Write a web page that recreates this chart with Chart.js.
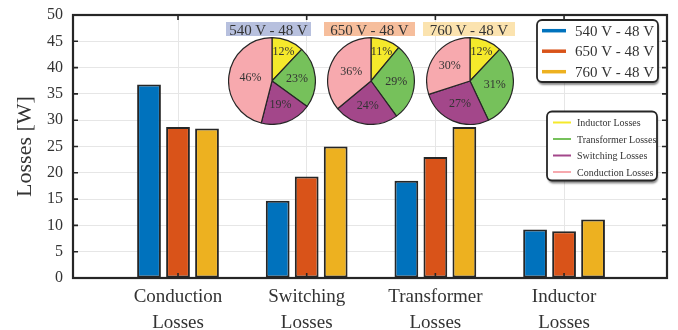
<!DOCTYPE html>
<html>
<head>
<meta charset="utf-8">
<title>Loss breakdown</title>
<script src="https://cdn.jsdelivr.net/npm/chart.js@4.4.0/dist/chart.umd.min.js"></script>
<style>
  html, body { margin: 0; padding: 0; background: #fff; }
  #wrap { position: relative; width: 678px; height: 330px; }
  #losses { position: absolute; left: 0; top: 0; }
  .pie { position: absolute; }
  .pie-title {
    position: absolute; top: 22px; height: 14px; line-height: 15px;
    font: 15px "Liberation Serif", serif; color: #333;
    text-align: center; white-space: nowrap; overflow: visible;
  }
</style>
</head>
<body>
<div id="wrap">
  <canvas id="losses" width="678" height="330"></canvas>
  <div class="pie-title" style="left:226px;width:85px;background:#b7c0de;">540 V - 48 V</div>
  <div class="pie-title" style="left:324px;width:91px;background:#f6be9c;">650 V - 48 V</div>
  <div class="pie-title" style="left:423px;width:92px;background:#fbe3af;">760 V - 48 V</div>
  <canvas class="pie" id="pie540" width="88" height="88" style="left:228px;top:37px;"></canvas>
  <canvas class="pie" id="pie650" width="88" height="88" style="left:327px;top:37px;"></canvas>
  <canvas class="pie" id="pie760" width="88" height="88" style="left:426px;top:37px;"></canvas>
</div>
<script>
// bar groups
const categories = [['Conduction', 'Losses'], ['Switching', 'Losses'], ['Transformer', 'Losses'], ['Inductor', 'Losses']];
const seriesNames = ['540 V - 48 V', '650 V - 48 V', '760 V - 48 V'];
const loss540 = [36.8, 14.7, 18.5, 9.2];
const loss650 = [28.7, 19.3, 23.0, 8.9];
const loss760 = [28.4, 25.0, 28.7, 11.1];
const yTicks = [0, 5, 10, 15, 20, 25, 30, 35, 40, 45, 50];

// pie breakdowns (percent)
const pieParts = ['Inductor Losses', 'Transformer Losses', 'Switching Losses', 'Conduction Losses'];
const share540 = [12, 23, 19, 46];
const share650 = [11, 29, 24, 36];
const share760 = [12, 31, 27, 30];

const barColors = ['#0072bd', '#d95319', '#edb120'];
const partColors = ['#f5e92b', '#76c15b', '#a3478a', '#f7a9ae'];
const ink = '#262626';
const serif = '"Liberation Serif", serif';

const toPoints = arr => arr.map((v, i) => ({ x: i + 1, y: v }));

// frame round the plot + inward tick marks on all four sides
const framePlugin = {
  id: 'frame',
  afterDraw(chart) {
    const { ctx, chartArea: a } = chart;
    const xs = chart.scales.x, ys = chart.scales.y;
    ctx.save();
    ctx.strokeStyle = ink;
    ctx.lineWidth = 1.6;
    xs.ticks.forEach(t => {
      const px = xs.getPixelForValue(t.value);
      ctx.beginPath();
      ctx.moveTo(px, a.bottom); ctx.lineTo(px, a.bottom - 5);
      ctx.moveTo(px, a.top); ctx.lineTo(px, a.top + 5);
      ctx.stroke();
    });
    ys.ticks.forEach(t => {
      const py = ys.getPixelForValue(t.value);
      ctx.beginPath();
      ctx.moveTo(a.left, py); ctx.lineTo(a.left + 5, py);
      ctx.moveTo(a.right, py); ctx.lineTo(a.right - 5, py);
      ctx.stroke();
    });
    ctx.lineWidth = 2.2;
    ctx.strokeRect(a.left, a.top, a.right - a.left, a.bottom - a.top);
    ctx.restore();
  }
};

function roundRect(ctx, x, y, w, h, r) {
  ctx.beginPath();
  ctx.moveTo(x + r, y);
  ctx.arcTo(x + w, y, x + w, y + h, r);
  ctx.arcTo(x + w, y + h, x, y + h, r);
  ctx.arcTo(x, y + h, x, y, r);
  ctx.arcTo(x, y, x + w, y, r);
  ctx.closePath();
}

// boxed legends with a drop shadow
const boxLegends = {
  id: 'boxLegends',
  afterDraw(chart, args, opts) {
    const ctx = chart.ctx;
    opts.boxes.forEach(b => {
      ctx.save();
      roundRect(ctx, b.x, b.y, b.w, b.h, 5);
      ctx.shadowColor = 'rgba(0,0,0,0.45)';
      ctx.shadowOffsetX = 1;
      ctx.shadowOffsetY = 3;
      ctx.shadowBlur = 2;
      ctx.fillStyle = '#fff';
      ctx.fill();
      ctx.shadowColor = 'transparent';
      ctx.lineWidth = 1.8;
      ctx.strokeStyle = ink;
      ctx.stroke();
      ctx.font = b.font;
      ctx.textBaseline = 'middle';
      ctx.textAlign = 'left';
      b.items.forEach((it, i) => {
        const yy = b.y + b.first + i * b.step;
        ctx.strokeStyle = it.color;
        ctx.lineWidth = b.lineWidth;
        ctx.beginPath();
        ctx.moveTo(b.x + b.lineFrom, yy);
        ctx.lineTo(b.x + b.lineTo, yy);
        ctx.stroke();
        ctx.fillStyle = '#333';
        ctx.fillText(it.label, b.x + b.textAt, yy + 1);
      });
      ctx.restore();
    });
  }
};

const lossChart = new Chart(document.getElementById('losses'), {
  type: 'bar',
  data: {
    datasets: [loss540, loss650, loss760].map((arr, i) => ({
      label: seriesNames[i],
      data: toPoints(arr),
      backgroundColor: barColors[i],
      borderColor: ink,
      borderWidth: 2,
      borderSkipped: false,
      categoryPercentage: 0.676,
      barPercentage: 0.82
    }))
  },
  options: {
    responsive: false,
    animation: false,
    layout: { padding: { left: 0, right: 11, top: 15, bottom: 0 } },
    scales: {
      x: {
        type: 'linear',
        min: 0.184,
        max: 4.8,
        offset: false,
        afterBuildTicks: s => { s.ticks = categories.map((c, i) => ({ value: i + 1 })); },
        afterFit: s => { s.height = 52; },
        grid: { color: '#e6e6e6', lineWidth: 1, drawTicks: false, offset: false },
        border: { display: false },
        ticks: {
          autoSkip: false,
          maxRotation: 0,
          padding: 6,
          color: '#333',
          font: { family: serif, size: 19, lineHeight: 1.37 },
          callback: v => categories[Math.round(v) - 1]
        }
      },
      y: {
        min: 0,
        max: 50,
        afterBuildTicks: s => { s.ticks = yTicks.map(v => ({ value: v })); },
        // fixed axis width; label overhang handled by layout padding
        afterFit: s => { s.width = 73; s.paddingTop = 0; s.paddingBottom = 0; },
        grid: { color: '#e6e6e6', lineWidth: 1, drawTicks: false },
        border: { display: false },
        ticks: { padding: 10, color: '#333', font: { family: serif, size: 16 } },
        title: {
          display: true,
          text: 'Losses [W]',
          color: '#333',
          font: { family: serif, size: 22 },
          padding: { top: 12 }
        }
      }
    },
    plugins: {
      legend: { display: false },
      tooltip: { enabled: false },
      boxLegends: {
        boxes: [
          {
            x: 537, y: 20, w: 121, h: 62, first: 10.7, step: 20.5,
            lineFrom: 5, lineTo: 29, lineWidth: 3.5, textAt: 38,
            font: '15px ' + serif,
            items: seriesNames.map((n, i) => ({ label: n, color: barColors[i] }))
          },
          {
            x: 547, y: 111.5, w: 110, h: 69, first: 11, step: 16.5,
            lineFrom: 6, lineTo: 24, lineWidth: 2, textAt: 30,
            font: '10px ' + serif,
            items: pieParts.map((n, i) => ({ label: n, color: partColors[i] }))
          }
        ]
      }
    }
  },
  plugins: [framePlugin, boxLegends]
});

// percentage text inside each slice
const sliceLabels = {
  id: 'sliceLabels',
  afterDatasetsDraw(chart) {
    const ctx = chart.ctx;
    const vals = chart.data.datasets[0].data;
    ctx.save();
    ctx.font = '12px ' + serif;
    ctx.fillStyle = '#333';
    ctx.textAlign = 'center';
    ctx.textBaseline = 'middle';
    chart.getDatasetMeta(0).data.forEach((arc, i) => {
      const v = vals[i];
      const k = v < 15 ? 0.72 : v > 33 ? 0.5 : 0.58;
      const mid = (arc.startAngle + arc.endAngle) / 2;
      const r = arc.outerRadius * k;
      ctx.fillText(v + '%', arc.x + Math.cos(mid) * r, arc.y + Math.sin(mid) * r);
    });
    ctx.restore();
  }
};

function makePie(id, shares) {
  return new Chart(document.getElementById(id), {
    type: 'pie',
    data: {
      labels: pieParts,
      datasets: [{
        data: shares,
        backgroundColor: partColors,
        borderColor: ink,
        borderWidth: 1.2
      }]
    },
    options: {
      responsive: false,
      animation: false,
      layout: { padding: 0 },
      plugins: { legend: { display: false }, tooltip: { enabled: false } }
    },
    plugins: [sliceLabels]
  });
}

makePie('pie540', share540);
makePie('pie650', share650);
makePie('pie760', share760);
</script>
</body>
</html>
